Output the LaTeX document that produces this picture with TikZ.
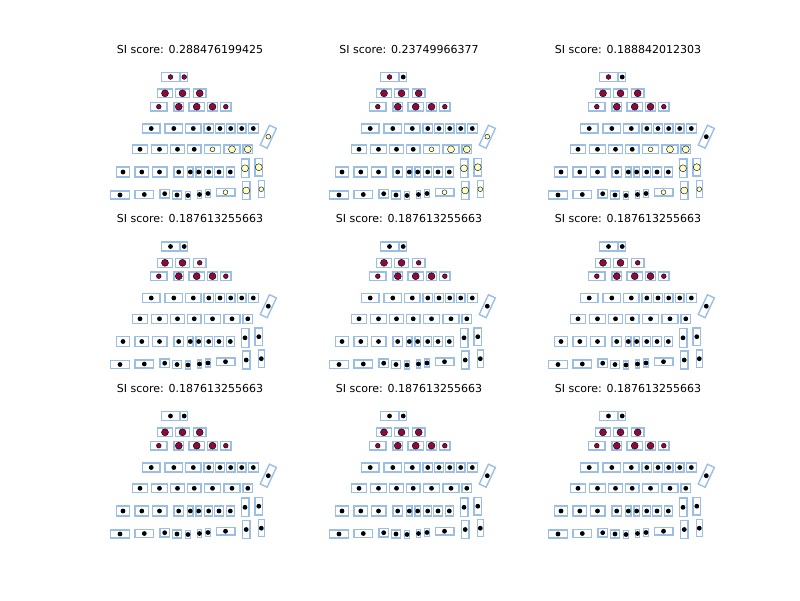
\documentclass[tikz,border=0pt]{standalone}
\usepackage{fontspec}
\setmainfont{DejaVu Sans}
\usepackage{tikz}

\definecolor{slotblue}{RGB}{155,190,230}
\definecolor{seatred}{RGB}{140,10,60}
\definecolor{seatyellow}{RGB}{255,255,190}

\tikzset{
  slot/.style 2 args={draw=slotblue, line width=1.4pt, inner sep=0pt, outer sep=0pt,
    minimum width=#1-1.4, minimum height=#2-1.2},
  smallk/.style={circle, fill=black, inner sep=0pt, minimum size=4.8},
  largek/.style={smallk},
  smallr/.style={circle, draw=black, line width=0.4pt, fill=seatred, inner sep=0pt, minimum size=4.8},
  larger/.style={smallr, minimum size=7},
  smally/.style={circle, draw=black, line width=0.4pt, fill=seatyellow, inner sep=0pt, minimum size=4.8},
  largey/.style={smally, minimum size=7},
  score/.style={font=\fontsize{11}{13}\selectfont}
}

\newcommand{\scorepanel}[9]{%
  \begin{scope}[shift={(#1,#2)}]
    \node[score] (#3title) at (190,49) {SI score: #4};
    \node[slot={19}{10}] (#3a1) at (170.5,77) {};
    \node[slot={8.3}{10}] (#3a2) at (184.2,77) {};
    \node[#5] at (#3a1) {};
    \node[#6] at (#3a2) {};
    \node[slot={16.6}{10}] (#3b1) at (165,93.3) {};
    \node[slot={15}{10}] (#3b2) at (182.5,93.3) {};
    \node[slot={14}{10}] (#3b3) at (199.7,93.3) {};
    \node[larger] at (#3b1) {};
    \node[larger] at (#3b2) {};
    \node[#7] at (#3b3) {};
    \foreach \cx/\w/\dot [count=\i] in {158.8/17.7/smallr, 178.8/11/larger, 196.7/16.7/larger,
                                       212.5/11.6/larger, 225.8/11.7/smallr} {
      \node[slot={\w}{10}] (#3c\i) at (\cx,106.7) {};
      \node[\dot] at (#3c\i) {};
    }
    \foreach \cx/\w [count=\i] in {151.2/19, 173.8/19, 193.3/16.7, 208.8/11, 220/10,
                                   230.7/10, 241.7/10, 253.3/11.3} {
      \node[slot={\w}{10}] (#3d\i) at (\cx,128.5) {};
      \node[smallk] at (#3d\i) {};
    }
    \node[slot={9}{23}, rotate=-25] (#3d9) at (268.3,136.7) {};
    \node[#8] at (#3d9) {};
    \foreach \cx/\w [count=\i] in {140/16.6, 159.5/17.6, 177.5/15, 194.2/15} {
      \node[slot={\w}{10}] (#3e\i) at (\cx,149.3) {};
      \node[smallk] at (#3e\i) {};
    }
    \node[slot={17}{10}] (#3e5) at (212.5,149.3) {};
    \node[slot={17.4}{10}] (#3e6) at (232,149.3) {};
    \node[slot={11}{10}] (#3e7) at (247.8,149.3) {};
    \node[small#9] at (#3e5) {};
    \node[large#9] at (#3e6) {};
    \node[large#9] at (#3e7) {};
    \foreach \cx/\w [count=\i] in {123/14, 141.8/15, 159.5/16, 178.7/11, 190.3/6.5,
                                   198.7/6.6, 208.7/9.3, 219/10, 230.3/9.3} {
      \node[slot={\w}{11}] (#3f\i) at (\cx,172) {};
      \node[smallk] at (#3f\i) {};
    }
    \node[slot={9}{20}] (#3f10) at (245,168.3) {};
    \node[slot={9}{19}] (#3f11) at (258.8,167.2) {};
    \node[large#9] at (#3f10) {};
    \node[large#9] at (#3f11) {};
    \foreach \cx/\cy/\w [count=\i] in {120/195/20, 144.3/194.5/20, 164.7/193.7/10.7, 177/195/10.7,
                                      188/195.5/6, 199.5/194.5/5.7, 208/193.5/6} {
      \node[slot={\w}{9.5}] (#3g\i) at (\cx,\cy) {};
      \node[smallk] at (#3g\i) {};
    }
    \node[slot={20}{9}] (#3g8) at (225.5,192.2) {};
    \node[slot={9}{19}] (#3g9) at (246.2,190.5) {};
    \node[slot={7.5}{18.3}] (#3g10) at (261.3,189.2) {};
    \node[small#9] at (#3g8) {};
    \node[large#9] at (#3g9) {};
    \node[small#9] at (#3g10) {};
  \end{scope}}

\begin{document}
\begin{tikzpicture}[x=1pt, y=-1pt]
  \useasboundingbox (0,0) rectangle (800,600);
  \scorepanel{0}{0}{p1}{0.288476199425}{smallr}{smallr}{larger}{smally}{y}
  \scorepanel{219}{0}{p2}{0.23749966377}{smallr}{smallk}{larger}{smally}{y}
  \scorepanel{438}{0}{p3}{0.188842012303}{smallr}{smallk}{larger}{smallk}{y}
  \scorepanel{0}{169.5}{p4}{0.187613255663}{smallk}{smallk}{smallr}{smallk}{k}
  \scorepanel{219}{169.5}{p5}{0.187613255663}{smallk}{smallk}{smallr}{smallk}{k}
  \scorepanel{438}{169.5}{p6}{0.187613255663}{smallk}{smallk}{smallr}{smallk}{k}
  \scorepanel{0}{339}{p7}{0.187613255663}{smallk}{smallk}{larger}{smallk}{k}
  \scorepanel{219}{339}{p8}{0.187613255663}{smallk}{smallk}{larger}{smallk}{k}
  \scorepanel{438}{339}{p9}{0.187613255663}{smallk}{smallk}{larger}{smallk}{k}
\end{tikzpicture}
\end{document}
